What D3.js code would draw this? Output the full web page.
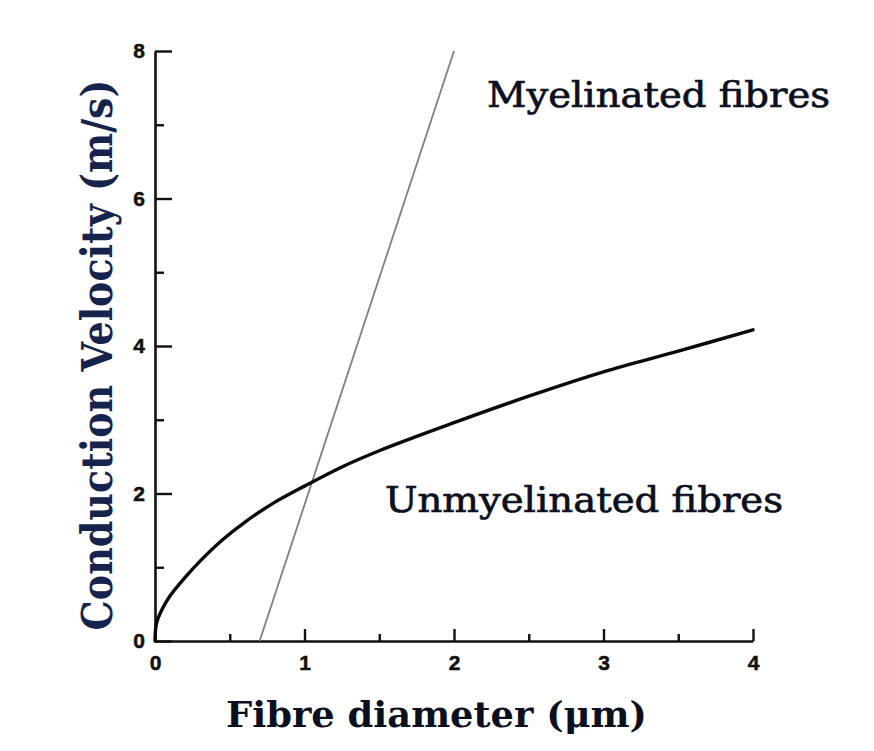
<!DOCTYPE html>
<html>
<head>
<meta charset="utf-8">
<script src="https://cdn.jsdelivr.net/npm/d3@7/dist/d3.min.js"></script>
<style>
  html, body { margin: 0; padding: 0; background: #fff; }
  .tick text { font-family: "Liberation Sans", Arial, sans-serif; font-weight: bold; font-size: 21px; fill: #111; stroke: #111; stroke-width: 0.5px; }
</style>
</head>
<body>
<div id="chart"></div>
<script>
// values
var diameter = [0, 0.01, 0.05, 0.1, 0.2, 0.3, 0.45, 0.6, 0.8, 1.0, 1.25, 1.5, 2.0, 2.5, 3.0, 3.5, 4.0];
var unmyelinated = [0, 0.24, 0.44, 0.61, 0.86, 1.08, 1.37, 1.61, 1.88, 2.1, 2.36, 2.58, 2.96, 3.32, 3.65, 3.93, 4.22];
var myelinatedDiameter = [0.7, 2.0];
var myelinated = [0, 8];
var xTicks = [0, 1, 2, 3, 4];
var xMinorTicks = [0.5, 1.5, 2.5, 3.5];
var yTicks = [0, 2, 4, 6, 8];
var yMinorTicks = [1, 3, 5, 7];

var width = 874, height = 751;
var margin = {top: 51, right: 121, bottom: 110, left: 155};
var serif = '"DejaVu Serif", "Liberation Serif", serif';
var ink = "#0b0f1e";

var svg = d3.select("#chart")
            .append("svg")
            .attr("width", width)
            .attr("height", height);

var x = d3.scaleLinear().domain([0, 4]).range([margin.left, width - margin.right]);
var y = d3.scaleLinear().domain([0, 8]).range([height - margin.bottom, margin.top]);

// minor ticks first, then the major axis over them
svg.append("g")
   .attr("transform", "translate(0," + y(0) + ")")
   .call(d3.axisBottom(x).tickValues(xMinorTicks).tickSize(-7).tickSizeOuter(0).tickFormat(""))
   .call(function (g) { g.select(".domain").remove(); });

svg.append("g")
   .attr("transform", "translate(" + x(0) + ",0)")
   .call(d3.axisLeft(y).tickValues(yMinorTicks).tickSize(-9).tickSizeOuter(0).tickFormat(""))
   .call(function (g) { g.select(".domain").remove(); });

svg.append("g")
   .attr("transform", "translate(0," + y(0) + ")")
   .call(d3.axisBottom(x).tickValues(xTicks).tickSize(-12).tickSizeOuter(0).tickPadding(14).tickFormat(d3.format("d")));

svg.append("g")
   .attr("transform", "translate(" + x(0) + ",0)")
   .call(d3.axisLeft(y).tickValues(yTicks).tickSize(-17).tickSizeOuter(0).tickPadding(10).tickFormat(d3.format("d")));

svg.selectAll(".domain").attr("stroke", "#111").attr("stroke-width", 2.6);
svg.selectAll(".tick line").attr("stroke", "#111").attr("stroke-width", 2.4);

// myelinated fibres: thin grey straight line
svg.append("path")
   .datum(d3.zip(myelinatedDiameter, myelinated))
   .attr("fill", "none")
   .attr("stroke", "#808080")
   .attr("stroke-width", 1.8)
   .attr("d", d3.line().x(function (d) { return x(d[0]); }).y(function (d) { return y(d[1]); }));

// unmyelinated fibres: thick black curve
svg.append("path")
   .datum(d3.zip(diameter, unmyelinated))
   .attr("fill", "none")
   .attr("stroke", "#0a0a0a")
   .attr("stroke-width", 3.4)
   .attr("stroke-linecap", "round")
   .attr("d", d3.line().curve(d3.curveCatmullRom.alpha(0.5))
                .x(function (d) { return x(d[0]); })
                .y(function (d) { return y(d[1]); }));

// curve labels
svg.append("text")
   .attr("x", 487).attr("y", 107)
   .attr("font-family", serif).attr("font-size", 36)
   .attr("fill", ink).attr("stroke", ink).attr("stroke-width", 0.7)
   .attr("textLength", 343).attr("lengthAdjust", "spacingAndGlyphs")
   .text("Myelinated fibres");

svg.append("text")
   .attr("x", 385).attr("y", 512)
   .attr("font-family", serif).attr("font-size", 36)
   .attr("fill", ink).attr("stroke", ink).attr("stroke-width", 0.7)
   .attr("textLength", 398).attr("lengthAdjust", "spacingAndGlyphs")
   .text("Unmyelinated fibres");

// axis titles
svg.append("text")
   .attr("x", 226).attr("y", 727)
   .attr("font-family", serif).attr("font-weight", "bold").attr("font-size", 35).attr("fill", ink)
   .attr("textLength", 421).attr("lengthAdjust", "spacingAndGlyphs")
   .text("Fibre diameter (\u03bcm)");

svg.append("text")
   .attr("transform", "translate(112,355) rotate(-90)")
   .attr("text-anchor", "middle")
   .attr("font-family", serif).attr("font-weight", "bold").attr("font-size", 42).attr("fill", "#16244d")
   .attr("textLength", 551).attr("lengthAdjust", "spacingAndGlyphs")
   .text("Conduction Velocity (m/s)");
</script>
</body>
</html>
